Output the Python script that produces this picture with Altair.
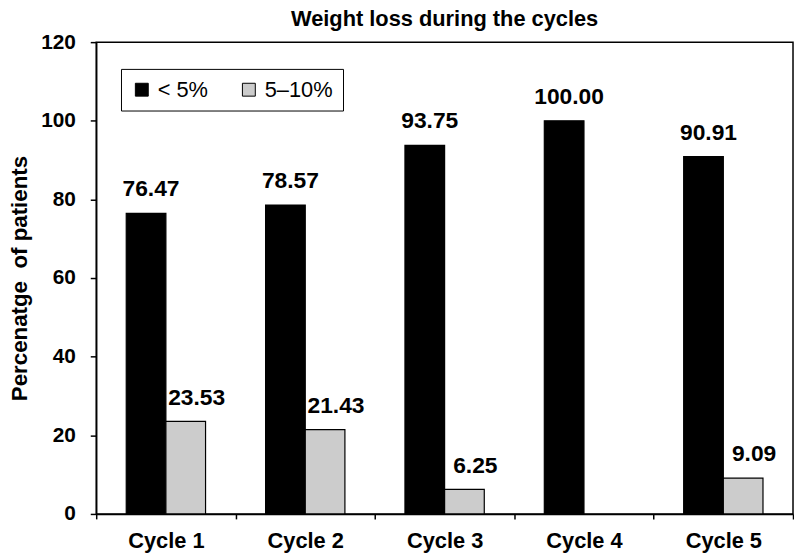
import altair as alt
import pandas as pd

cycles = ["Cycle 1", "Cycle 2", "Cycle 3", "Cycle 4", "Cycle 5"]
series = ["< 5%", "5\u201310%"]
lt5 = [76.47, 78.57, 93.75, 100.00, 90.91]
b5_10 = [23.53, 21.43, 6.25, None, 9.09]
colors = ["#000000", "#cccccc"]

rows = []
for c, a, b in zip(cycles, lt5, b5_10):
    rows.append({"cycle": c, "series": series[0], "value": a})
    if b is not None:
        rows.append({"cycle": c, "series": series[1], "value": b})
df = pd.DataFrame(rows)

FONT = "Liberation Sans"

base = alt.Chart(df).encode(
    x=alt.X("cycle:N", sort=cycles,
            scale=alt.Scale(paddingInner=0, paddingOuter=0),
            axis=alt.Axis(title=None, labelAngle=0, tickBand="extent",
                          tickSize=5, labelPadding=12, labelFontSize=22,
                          labelFontWeight="bold", labelFont=FONT)),
    xOffset=alt.XOffset("series:N", sort=series,
                        scale=alt.Scale(domain=series, paddingInner=0, paddingOuter=0.757)),
    y=alt.Y("value:Q", scale=alt.Scale(domain=[0, 120], nice=False),
            axis=alt.Axis(title="Percenatge\u00a0 of patients",
                          values=[0, 20, 40, 60, 80, 100, 120], grid=False,
                          tickSize=6, labelPadding=15, labelFontSize=21,
                          labelFontWeight="bold", labelFont=FONT,
                          titleFontSize=22.5, titleFont=FONT, titleFontWeight="bold",
                          titlePadding=9, titleColor="black")),
)

bars = base.mark_bar(stroke="black", strokeWidth=1.2).encode(
    fill=alt.Fill("series:N", sort=series,
                  scale=alt.Scale(domain=series, range=colors),
                  legend=alt.Legend(title=None, orient="none", legendX=25, legendY=27,
                                    direction="horizontal", strokeColor="black",
                                    fillColor="white", padding=10,
                                    symbolType="square", symbolSize=169,
                                    symbolStrokeColor="black", symbolStrokeWidth=1,
                                    labelFontSize=22, labelFont=FONT,
                                    labelFontWeight="normal", labelColor="black",
                                    labelOffset=5, columnPadding=30)),
)

txt_a = base.mark_text(fontSize=23, fontWeight="bold", font=FONT, color="black",
                       baseline="alphabetic", dx=5, dy=-17).encode(
    text=alt.Text("value:Q", format=".2f")
).transform_filter(alt.datum.series == series[0])

txt_b = base.mark_text(fontSize=23, fontWeight="bold", font=FONT, color="black",
                       baseline="alphabetic", dx=11, dy=-17).encode(
    text=alt.Text("value:Q", format=".2f")
).transform_filter(alt.datum.series == series[1])

chart = alt.layer(bars, txt_a, txt_b).properties(
    width=703, height=476,
    title=alt.TitleParams("Weight loss during the cycles", fontSize=22,
                          font=FONT, fontWeight="bold", color="black",
                          anchor="middle", offset=0),
    autosize=alt.AutoSizeParams(type="none"),
    padding={"left": 89, "top": 32, "right": 1, "bottom": 40},
).configure_view(
    stroke="black", strokeWidth=1.5
).configure_axis(
    domainColor="black", domainWidth=1.5, tickColor="black", tickWidth=1.5,
    labelColor="black"
)

chart.save("out.html", embed_options={"renderer": "svg", "actions": False})
